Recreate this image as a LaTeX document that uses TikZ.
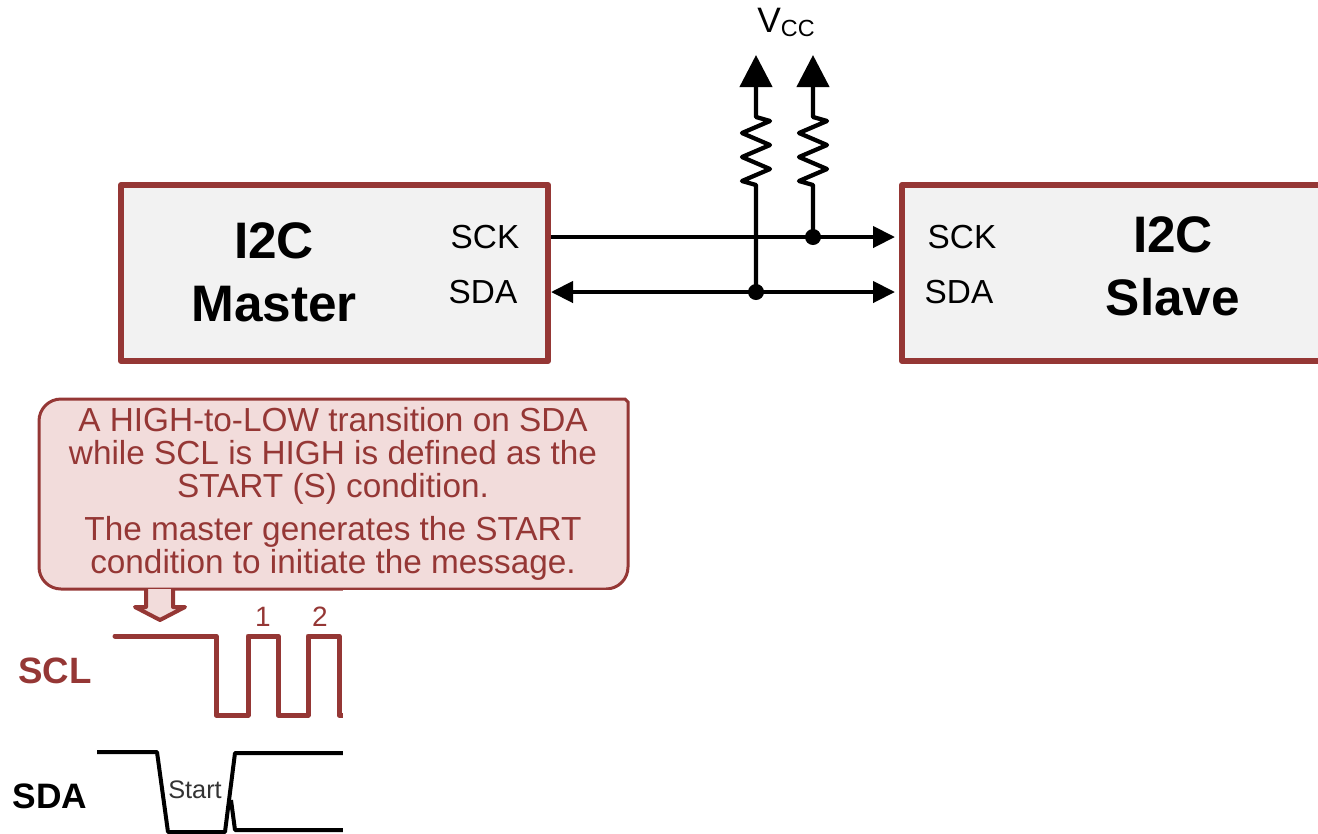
\documentclass[tikz,border=0pt]{standalone}
\usepackage{fontspec}
\setmainfont{Liberation Sans}
\usepackage{xcolor}
\usetikzlibrary{positioning, arrows.meta, calc}
\definecolor{brick}{HTML}{953735}
\definecolor{blush}{HTML}{F2DCDB}
\definecolor{boxgray}{HTML}{F2F2F2}
\newcommand{\pullup}[2]{\draw[wire, line join=round, -{Triangle[length=24pt, width=24pt]}] (#1.center) -- (#1.center |- 0,185)
  -- ++(-14,-4) -- ++(28,-12) -- ++(-28,-12) -- ++(28,-12) -- ++(-28,-12) -- ++(28,-12) -- ++(-14,-4) -- (#2);}

\begin{document}
\begin{tikzpicture}[
  x=0.75pt, y=-0.75pt,
  chip/.style={draw=brick, fill=boxgray, line width=4.5pt, minimum height=132pt, inner sep=0pt, line join=round},
  title/.style={font=\fontsize{38.5}{47}\selectfont\bfseries, align=center},
  pin/.style={font=\fontsize{25}{30}\selectfont},
  wire/.style={line width=3.2pt},
  tip/.style={-{Triangle[length=16.5pt, width=15.75pt]}},
  junction/.style={circle, fill=black, inner sep=0pt, minimum size=12pt},
  note/.style={font=\fontsize{25}{24.75}\selectfont, text=brick, align=center},
  wave/.style={line width=3.75pt, line join=round}
]
  \clip (0,0) rectangle (1318,833);

  % Nodes
  \node[chip, minimum width=320.25pt] (master) at (334.5,273) {};
  \node[chip, minimum width=315pt] (slave) at (1112,273) {};
  \node[title] (mastertitle) at (274,272) {I2C\\Master};
  \node[title] (slavetitle) at (1173,266) {I2C\\Slave};
  \node[pin] (msck) at (485,237) {SCK};
  \node[pin] (msda) at (483,292) {SDA};
  \node[pin] (ssck) at (962,237) {SCK};
  \node[pin] (ssda) at (959,292) {SDA};
  \node[font=\fontsize{26.5}{30}\selectfont] (vcc) at (786,22)
    {V\raisebox{-3pt}{\fontsize{17.5}{20}\selectfont CC}};
  \node[junction] (jsda) at (756,292) {};
  \node[junction] (jsck) at (813,237) {};
  \coordinate (vcca) at (756,55);
  \coordinate (vccb) at (813,55);

  % Edges
  \draw[wire, tip, shorten >=3pt] (master.east |- msck) -- (slave.west |- ssck);
  \draw[wire, tip, shorten >=3pt, {Triangle[length=16.5pt, width=15.75pt]}-{Triangle[length=16.5pt, width=15.75pt]}]
    (master.east |- msda) -- (slave.west |- ssda);
  \pullup{jsda}{vcca}
  \pullup{jsck}{vccb}

  % Callout
  \draw[draw=brick, fill=blush, line width=2.25pt] (39,421) arc[start angle=180, end angle=270, radius=22]
    -- (625,399) -- (628,402) -- (628,567) arc[start angle=0, end angle=90, radius=22]
    -- (61,589) arc[start angle=90, end angle=180, radius=22] -- cycle;
  \node[note] (calltext) at (333,494) {A HIGH-to-LOW transition on SDA\\while SCL is HIGH is defined as the\\START (S) condition.\\[8pt]
    The master generates the START\\condition to initiate the message.};
  \draw[draw=brick, fill=blush, line width=3pt, line join=round] (146,589) -- (146,607) -- (135,607) -- (160,620)
    -- (185,607) -- (173,607) -- (173,589);

  % Timing
  \draw[wave, brick, line cap=round] (115,636) -- (216,636) -- (216,715) -- (248,715) -- (248,636) -- (278,636)
    -- (278,715) -- (308,715) -- (308,636) -- (339,636) -- (339,715) -- (360,715);
  \draw[wave, black, line width=3pt] (97,752) -- (157,752) -- (168,832) -- (225,832) -- (235,753) -- (360,753);
  \draw[wave, black, line width=3pt] (231,800) -- (235,830) -- (360,830);
  \fill[white] (343,590) rectangle (700,833);
  \node[font=\fontsize{27.5}{30}\selectfont\bfseries, text=brick] (scl) at (55,671) {SCL};
  \node[font=\fontsize{26.5}{30}\selectfont\bfseries] (sda) at (50,796) {SDA};
  \node[font=\fontsize{21}{24}\selectfont, text=brick] (one) at (263,617) {1};
  \node[font=\fontsize{21}{24}\selectfont, text=brick] (two) at (320,617) {2};
  \node[font=\fontsize{19}{22}\selectfont, text=black!80] (start) at (195,790) {Start};
\end{tikzpicture}
\end{document}
